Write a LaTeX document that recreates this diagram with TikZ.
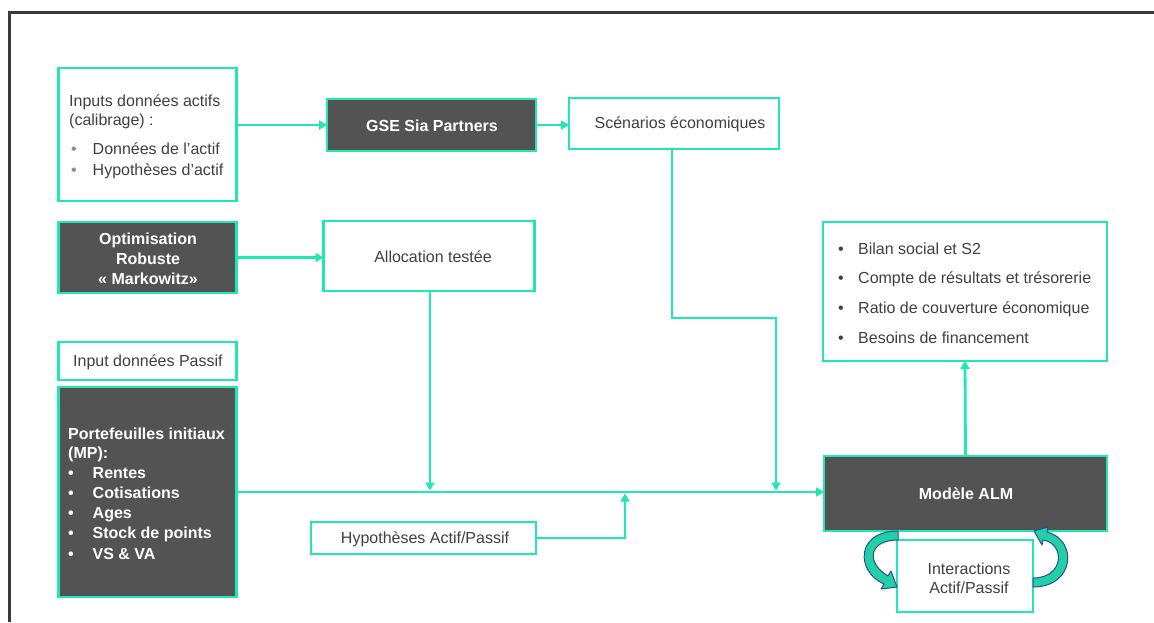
\documentclass[tikz,border=0pt]{standalone}
\usepackage{fontspec}
\setmainfont{Liberation Sans}
\usetikzlibrary{arrows.meta}
\definecolor{mint}{RGB}{32,232,180}
\definecolor{dgrey}{RGB}{83,83,83}
\definecolor{tgrey}{RGB}{64,64,64}
\definecolor{bgrey}{RGB}{140,140,140}
\definecolor{framecol}{RGB}{58,58,58}
\definecolor{navy}{RGB}{43,76,155}
\definecolor{cfill}{RGB}{34,208,166}
\begin{document}
\begin{tikzpicture}[x=1pt,y=-1pt,
  lbox/.style={draw=mint,line width=2.6pt,fill=white,inner sep=0pt,outer sep=0pt},
  dbox/.style={lbox,fill=dgrey},
  conn/.style={draw=mint,line width=2.8pt,-{Triangle[length=8pt,width=9pt]}},
  txt/.style={font=\fontsize{16}{19}\selectfont,text=tgrey,inner sep=0pt,anchor=base west},
  ctxt/.style={font=\fontsize{16}{19}\selectfont,text=tgrey,inner sep=0pt,align=center},
  wtxt/.style={font=\bfseries\fontsize{16}{20}\selectfont,text=white,inner sep=0pt,anchor=base west},
  wctxt/.style={font=\bfseries\fontsize{16}{20}\selectfont,text=white,inner sep=0pt,align=center},
  curvarrow/.style={fill=cfill,draw=navy,line width=1pt,line join=round}
]
\useasboundingbox (0,0) rectangle (1154,622);
\fill[white] (0,0) rectangle (1154,622);
% frame
\draw[framecol,line width=3pt] (9,622) -- (9,12) -- (1154,12);

% boxes
\node[lbox,minimum width=178pt,minimum height=133pt] (inputs) at (147.5,134.5) {};
\node[dbox,minimum width=209pt,minimum height=52pt] (gse) at (431.5,125) {};
\node[lbox,minimum width=210pt,minimum height=51pt] (scen) at (674,123.5) {};
\node[dbox,minimum width=178pt,minimum height=71pt] (opt) at (147.5,257.5) {};
\node[lbox,minimum width=211pt,minimum height=70pt] (alloc) at (429,256) {};
\node[lbox,minimum width=178pt,minimum height=38pt] (passif) at (147.5,361) {};
\node[dbox,minimum width=178pt,minimum height=210pt] (portef) at (147.5,492) {};
\node[lbox,minimum width=225pt,minimum height=32pt] (hyp) at (423.5,538) {};
\node[dbox,minimum width=283pt,minimum height=75pt] (alm) at (965.5,493.5) {};
\node[lbox,minimum width=136pt,minimum height=72pt] (inter) at (965,576) {};
\node[lbox,minimum width=284pt,minimum height=139pt] (bilan) at (965,291.5) {};

% texts
\node[txt] (i1) at (69,106.7) {Inputs données actifs};
\node[txt] (i2) at (69,125.7) {(calibrage) :};
\node[txt,text=bgrey] (ib1) at (71,154) {•};
\node[txt] (i3) at (92.5,154) {Données de l’actif};
\node[txt,text=bgrey] (ib2) at (71,175) {•};
\node[txt] (i4) at (92.5,175) {Hypothèses d’actif};

\node[wctxt] (gset) at (432,126) {GSE Sia Partners};
\node[ctxt] (scent) at (680,124) {Scénarios économiques};
\node[wctxt] (optt) at (148,259) {Optimisation\\Robuste\\«~Markowitz»};
\node[ctxt] (allot) at (433,257) {Allocation testée};
\node[txt] (passt) at (73,366) {Input données Passif};

\node[wtxt] (p1) at (68,439) {Portefeuilles initiaux};
\node[wtxt] (p2) at (68,458) {(MP):};
\node[wtxt] (pb1) at (68,478) {•};
\node[wtxt] (p3) at (92.5,478) {Rentes};
\node[wtxt] (pb2) at (68,498) {•};
\node[wtxt] (p4) at (92.5,498) {Cotisations};
\node[wtxt] (pb3) at (68,518) {•};
\node[wtxt] (p5) at (92.5,518) {Ages};
\node[wtxt] (pb4) at (68,538) {•};
\node[wtxt] (p6) at (92.5,538) {Stock de points};
\node[wtxt] (pb5) at (68,559) {•};
\node[wtxt] (p7) at (92.5,559) {VS \& VA};

\node[ctxt] (hypt) at (425,539) {Hypothèses Actif/Passif};
\node[wctxt] (almt) at (966,494) {Modèle ALM};
\node[ctxt] (intert) at (969,578.5) {Interactions\\Actif/Passif};

\node[txt] (bb1) at (838,254) {•};
\node[txt] (b1) at (858,254) {Bilan social et S2};
\node[txt] (bb2) at (838,283) {•};
\node[txt] (b2) at (858,283) {Compte de résultats et trésorerie};
\node[txt] (bb3) at (838,313) {•};
\node[txt] (b3) at (858,313) {Ratio de couverture économique};
\node[txt] (bb4) at (838,343) {•};
\node[txt] (b4) at (858,343) {Besoins de financement};

% junction coordinates
\coordinate (jalloc) at (430,490.5);
\coordinate (jscen) at (776,490.5);
\coordinate (jhyp) at (625,493.5);
\coordinate (scenbend) at (776,318);
\coordinate (scenx) at (672,0);

% connectors
\draw[conn] (inputs.east |- gse.west) -- (gse.west);
\draw[conn] (gse.east) -- (scen.west |- gse.east);
\draw[conn] (opt.east) -- (alloc.west |- opt.east);
\draw[conn] (portef.east) -- (alm.west |- portef.east);
\draw[conn] (alloc.south -| jalloc) -- (jalloc);
\draw[conn] (scen.south -| scenx) |- (scenbend) -- (jscen);
\draw[conn] (hyp.east) -| (jhyp);
\draw[conn] (alm.north) -- (bilan.south);

% curved interaction arrows
\filldraw[curvarrow] (898,531) .. controls (855,531) and (856,572) .. (884,584)
  -- (881,589) -- (897,587) -- (891,571) -- (888,576)
  .. controls (866,563) and (868,540) .. (898,540) -- cycle;
\filldraw[curvarrow] (1033,587) .. controls (1075,587) and (1078,540) .. (1047,532)
  -- (1048,527) -- (1034,531) -- (1042,545) -- (1043,540)
  .. controls (1065,543) and (1065,578) .. (1033,578) -- cycle;
\end{tikzpicture}
\end{document}
